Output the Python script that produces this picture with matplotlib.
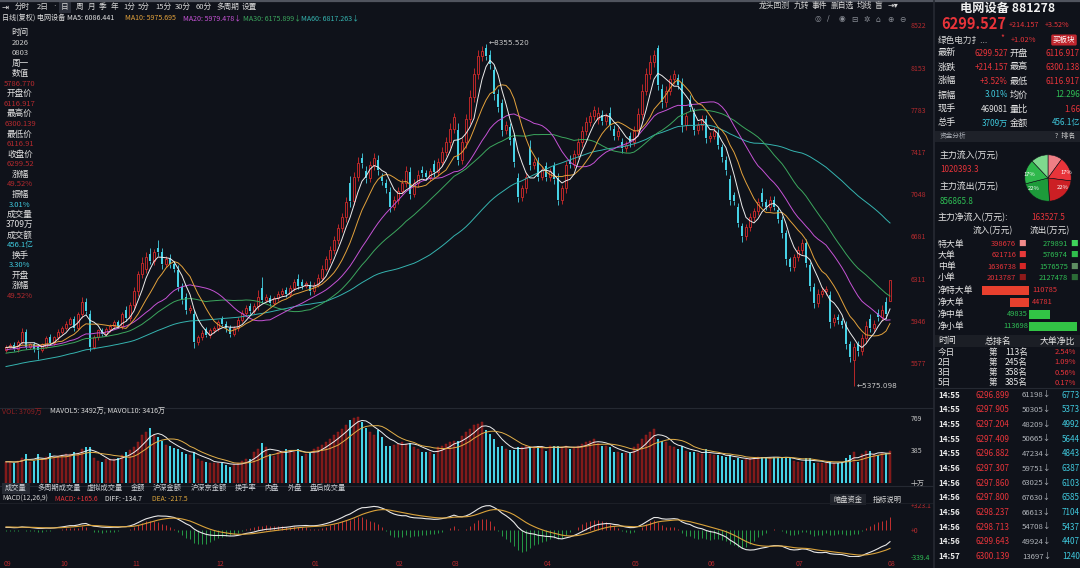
import matplotlib
matplotlib.use('Agg')
import matplotlib.pyplot as plt
from matplotlib.lines import Line2D
from matplotlib.patches import Rectangle
import numpy as np
import pandas as pd

plt.rcParams['font.family'] = ['Noto Sans CJK SC', 'DejaVu Sans']
plt.rcParams['axes.unicode_minus'] = False

# ---------------- data ----------------
# closes before the visible window, only used to warm up MA60 / MACD
prior_closes = [5290, 5310, 5280, 5330, 5350, 5320, 5360, 5400, 5380, 5350,
                5390, 5420, 5410, 5440, 5400, 5380, 5420, 5460, 5450, 5480,
                5500, 5470, 5440, 5480, 5510, 5530, 5500, 5490, 5520, 5560,
                5540, 5580, 5600, 5570, 5550, 5590, 5620, 5600, 5640, 5660,
                5630, 5610, 5650, 5680, 5660, 5690, 5700, 5670, 5650, 5690,
                5720, 5700, 5680, 5710, 5740, 5720, 5700, 5730, 5710, 5690]

opens = [5690, 5720, 5735, 5700, 5760, 5850, 5715, 5740, 5720, 5690,
         5720, 5800, 5750, 5800, 5850, 5880, 5920, 5960, 5880, 6000,
         6110, 6000, 5720, 5800, 5860, 5830, 5870, 5900, 5930, 5900,
         6040, 5970, 6080, 6200, 6350, 6400, 6530, 6470, 6580, 6540,
         6440, 6490, 6440, 6390, 6240, 6150, 6040, 6000, 5760, 5800,
         5870, 5820, 5860, 5880, 5960, 5920, 5880, 5830, 5880, 5950,
         6010, 6070, 6030, 6070, 6230, 6130, 6140, 6100, 6140, 6180,
         6210, 6180, 6230, 6310, 6280, 6250, 6260, 6200, 6260, 6320,
         6400, 6480, 6560, 6650, 6750, 6850, 7150, 6990, 7200, 7360,
         7250, 7190, 7300, 7350, 7200, 7150, 7070, 6940, 7000, 7080,
         7150, 7240, 7050, 7150, 7260, 7230, 7200, 7310, 7240, 7330,
         7420, 7500, 7620, 7610, 7350, 7500, 7700, 7900, 8100, 8250,
         8320, 8260, 8130, 7920, 7840, 7610, 7630, 7540, 7190, 7020,
         7100, 7460, 7300, 7330, 7200, 7290, 7200, 7290, 7190, 7000,
         7100, 7350, 7310, 7400, 7500, 7600, 7680, 7730, 7700, 7740,
         7690, 7760, 7620, 7560, 7500, 7450, 7560, 7500, 7600, 7750,
         7950, 8100, 8200, 8320, 7970, 7850, 7950, 8050, 8060, 8020,
         7650, 7870, 7760, 7610, 7650, 7700, 7540, 7560, 7580, 7460,
         7350, 7180, 7040, 6940, 6770, 6680, 6760, 6850, 6900, 7060,
         6980, 6940, 7000, 6910, 6820, 6710, 6480, 6410, 6500, 6560,
         6620, 6430, 6240, 6100, 6180, 6200, 6170, 5930, 5980, 5940,
         5910, 5740, 5600, 5740, 5680, 5790, 5960, 5880, 6010, 5980,
         6110, 6116.917]

closes = [5720, 5735, 5700, 5760, 5850, 5715, 5740, 5700, 5690, 5740,
          5790, 5750, 5800, 5850, 5880, 5920, 5960, 5880, 6000, 6110,
          6030, 5720, 5800, 5860, 5830, 5870, 5900, 5930, 5900, 6000,
          5970, 6080, 6200, 6350, 6450, 6500, 6470, 6540, 6540, 6440,
          6480, 6440, 6400, 6240, 6130, 6040, 6060, 5760, 5800, 5840,
          5820, 5860, 5880, 5930, 5920, 5880, 5830, 5880, 5950, 6010,
          6060, 6030, 6070, 6150, 6130, 6150, 6100, 6140, 6180, 6200,
          6180, 6230, 6280, 6250, 6250, 6270, 6200, 6260, 6320, 6400,
          6480, 6560, 6650, 6750, 6850, 6980, 6990, 7200, 7320, 7320,
          7190, 7300, 7360, 7260, 7160, 7100, 6940, 7000, 7080, 7150,
          7250, 7050, 7150, 7220, 7230, 7200, 7250, 7240, 7330, 7420,
          7500, 7620, 7720, 7350, 7500, 7700, 7900, 8100, 8250, 8300,
          8250, 8180, 7920, 7810, 7610, 7650, 7520, 7330, 7020, 7100,
          7200, 7300, 7330, 7200, 7260, 7200, 7250, 7180, 7000, 7100,
          7300, 7310, 7400, 7500, 7600, 7680, 7730, 7780, 7760, 7690,
          7730, 7650, 7560, 7600, 7450, 7480, 7500, 7600, 7750, 7950,
          8100, 8200, 8260, 8000, 7850, 7950, 8050, 8100, 8000, 7650,
          7730, 7810, 7610, 7650, 7700, 7540, 7560, 7600, 7480, 7370,
          7260, 7000, 6990, 6800, 6680, 6760, 6850, 6900, 6980, 6980,
          6940, 7000, 6940, 6830, 6710, 6480, 6410, 6500, 6560, 6620,
          6450, 6250, 6100, 6180, 6200, 6220, 5930, 5970, 5950, 5910,
          5740, 5630, 5720, 5680, 5790, 5900, 5880, 5920, 5980, 6040,
          6000, 6299.527]

wick_up = [15, 20, 25, 15, 30, 20, 15, 20, 20, 15,
           20, 25, 15, 20, 15, 25, 20, 30, 20, 40,
           30, 40, 20, 15, 25, 20, 15, 20, 25, 20,
           30, 30, 40, 30, 50, 40, 45, 30, 70, 40,
           30, 35, 30, 40, 30, 35, 25, 40, 20, 25,
           20, 25, 20, 25, 30, 20, 25, 20, 25, 30,
           25, 30, 30, 60, 100, 30, 25, 20, 25, 30,
           30, 25, 30, 40, 30, 25, 30, 20, 30, 30,
           30, 35, 30, 40, 35, 40, 60, 40, 50, 50,
           40, 35, 45, 40, 35, 30, 40, 30, 35, 30,
           40, 45, 30, 35, 30, 25, 30, 40, 35, 40,
           45, 50, 40, 60, 40, 50, 55, 50, 60, 45,
           35.52, 50, 40, 45, 40, 40, 35, 45, 40, 30,
           40, 60, 35, 40, 30, 40, 30, 35, 40, 30,
           40, 40, 35, 40, 45, 40, 35, 40, 45, 40,
           30, 45, 35, 30, 40, 30, 35, 40, 50, 55,
           50, 60, 50, 30, 40, 45, 40, 35, 40, 45,
           35, 40, 40, 30, 35, 40, 30, 30, 35, 30,
           35, 40, 30, 35, 30, 30, 35, 30, 35, 40,
           30, 35, 30, 30, 35, 30, 25, 30, 35, 40,
           35, 30, 30, 40, 35, 30, 35, 30, 25, 30,
           30, 30, 35, 30, 40, 45, 40, 35, 40, 45,
           40, 0.611]

wick_dn = [20, 15, 20, 25, 15, 20, 20, 25, 80, 20,
           15, 20, 15, 20, 25, 20, 15, 25, 20, 30,
           30, 35, 20, 25, 20, 15, 20, 25, 20, 25,
           25, 30, 30, 40, 35, 40, 30, 35, 30, 40,
           30, 35, 30, 40, 35, 40, 30, 50, 25, 20,
           20, 25, 20, 25, 20, 30, 25, 20, 25, 20,
           25, 30, 25, 35, 30, 25, 30, 20, 25, 20,
           25, 30, 25, 30, 25, 20, 30, 25, 20, 25,
           25, 30, 30, 35, 30, 40, 50, 40, 35, 40,
           40, 35, 40, 40, 35, 40, 45, 30, 35, 30,
           35, 45, 30, 35, 30, 30, 35, 40, 30, 35,
           40, 45, 40, 50, 40, 45, 40, 50, 45, 40,
           35, 40, 50, 45, 50, 40, 40, 45, 40, 35,
           40, 45, 35, 40, 30, 40, 35, 40, 50, 35,
           40, 35, 35, 40, 40, 35, 40, 35, 40, 35,
           35, 45, 40, 35, 40, 35, 40, 35, 40, 45,
           40, 45, 40, 45, 50, 40, 35, 40, 35, 55,
           40, 35, 45, 35, 40, 45, 35, 30, 35, 40,
           40, 45, 35, 40, 45, 35, 30, 35, 30, 35,
           30, 35, 30, 35, 40, 45, 35, 30, 35, 30,
           40, 45, 40, 35, 30, 35, 45, 35, 30, 30,
           40, 45, 224.902, 40, 35, 40, 35, 30, 40, 35,
           40, 0]

# volume in units of 十万
volumes = [250, 250, 240, 260, 300, 336, 250, 260, 336, 280,
           310, 350, 310, 320, 330, 340, 340, 370, 350, 400,
           420, 420, 300, 260, 250, 280, 280, 280, 300, 330,
           360, 390, 420, 480, 560, 600, 650, 560, 540, 490,
           450, 430, 410, 400, 360, 340, 330, 370, 280, 260,
           250, 240, 240, 240, 240, 215, 190, 220, 240, 260,
           280, 280, 360, 400, 470, 420, 340, 320, 360, 380,
           400, 380, 370, 400, 320, 340, 360, 400, 420, 450,
           480, 520, 560, 600, 640, 680, 740, 760, 780, 720,
           650, 600, 560, 620, 540, 440, 430, 450, 460, 480,
           460, 470, 420, 400, 370, 360, 370, 340, 420, 440,
           460, 480, 500, 490, 550, 600, 640, 680, 700, 720,
           620, 580, 520, 420, 440, 400, 390, 390, 420, 420,
           440, 420, 420, 440, 420, 380, 430, 430, 430, 420,
           430, 400, 420, 440, 460, 480, 500, 520, 470, 440,
           430, 420, 370, 360, 350, 350, 350, 420, 460, 520,
           560, 600, 640, 520, 490, 480, 440, 420, 400, 430,
           380, 360, 360, 350, 340, 400, 340, 330, 330, 320,
           310, 330, 270, 300, 270, 280, 290, 300, 310, 310,
           290, 300, 310, 310, 290, 300, 290, 260, 250, 250,
           290, 290, 240, 230, 230, 230, 250, 230, 240, 250,
           300, 330, 360, 250, 340, 380, 380, 340, 330, 355,
           350, 371]

price_ticks = [8522, 8153, 7783, 7417, 7048, 6681, 6311, 5946, 5577]
month_labels = ['09', '10', '11', '12', '01', '02', '03', '04', '05', '06', '07', '08']
month_starts = [0, 14, 32, 53, 77, 98, 112, 135, 157, 176, 198, 221]

ma_periods = [5, 10, 20, 30, 60]
ma_colors = ['#ececec', '#e3a23c', '#c653d6', '#3ca75e', '#35b4b0']
ma_legend = ['MA5: 6086.441', 'MA10: 5975.695', 'MA20: 5979.478\u2193',
             'MA30: 6175.899\u2193', 'MA60: 6817.263\u2193']

quote_rows = [('最新', '6299.527', '开盘', '6116.917'),
              ('涨跌', '+214.157', '最高', '6300.138'),
              ('涨幅', '+3.52%', '最低', '6116.917'),
              ('振幅', '3.01%', '均价', '12.296'),
              ('现手', '469081', '量比', '1.66'),
              ('总手', '3709万', '金额', '456.1亿')]

pie_shares = [10, 17, 22, 22, 17, 12]
pie_labels = ['', '17%', '22%', '22%', '17%', '']

flow_names = ['特大单', '大单', '中单', '小单']
flow_in = [398676, 621716, 1636738, 2013787]
flow_out = [279891, 576974, 1576575, 2127478]
net_names = ['净特大单', '净大单', '净中单', '净小单']
net_flow = [110785, 44781, -49835, -113698]

rank_days = ['今日', '2日', '3日', '5日']
rank_pos = [113, 245, 358, 385]
rank_ratio = ['2.54%', '1.09%', '0.56%', '0.17%']

tick_times = ['14:55'] * 5 + ['14:56'] * 6 + ['14:57']
tick_prices = ['6296.899', '6297.905', '6297.204', '6297.409', '6296.882', '6297.307',
               '6297.860', '6297.800', '6298.237', '6298.713', '6299.643', '6300.139']
tick_vols = [61198, 50305, 48209, 50665, 47234, 59751, 63025, 67630, 66613, 54708, 49924, 13697]
tick_amts = [6773, 5373, 4992, 5644, 4843, 6387, 6103, 6585, 7104, 5437, 4407, 1240]

left_info = [('时间', 'w'), ('2026', 'g'), ('0803', 'g'), ('周一', 'w'), ('数值', 'w'),
             ('5786.770', 'r'), ('开盘价', 'w'), ('6116.917', 'r'), ('最高价', 'w'),
             ('6300.139', 'r'), ('最低价', 'w'), ('6116.91', 'r'), ('收盘价', 'w'),
             ('6299.52', 'r'), ('涨幅', 'w'), ('49.52%', 'r'), ('振幅', 'w'),
             ('3.01%', 'c'), ('成交量', 'w'), ('3709万', 'w'), ('成交额', 'w'),
             ('456.1亿', 'c'), ('换手', 'w'), ('3.30%', 'c'), ('开盘', 'w'),
             ('涨幅', 'w'), ('49.52%', 'r')]

# ---------------- style ----------------
W, H = 1080, 568
BG = '#0f121a'
RED = '#e8343a'
DRED = '#b42a2e'
GREEN = '#2fbf55'
CYAN = '#3fc9dd'
WHITE = '#e2e2e2'
UPC = '#d42b2b'
DNC = '#46d2e6'
info_col = {'w': WHITE, 'g': '#c8c8c8', 'r': DRED, 'c': CYAN}

fig = plt.figure(figsize=(W / 100, H / 100), dpi=100, facecolor=BG)


def add_ax(x0, y0, x1, y1):
    a = fig.add_axes([x0 / W, 1 - y1 / H, (x1 - x0) / W, (y1 - y0) / H])
    a.set_facecolor(BG)
    for sp in a.spines.values():
        sp.set_visible(False)
    return a


def T(x, y, s, c=WHITE, size=6.2, ha='left', **kw):
    fig.text(x / W, 1 - y / H, s, color=c, fontsize=size, ha=ha, va='center', **kw)


def hline(y, x0=0, x1=W, c='#252932', lw=0.8):
    fig.add_artist(Line2D([x0 / W, x1 / W], [1 - y / H, 1 - y / H], color=c, lw=lw))


def box(x0, y0, x1, y1, fc):
    fig.add_artist(Rectangle((x0 / W, 1 - y1 / H), (x1 - x0) / W, (y1 - y0) / H,
                             transform=fig.transFigure, fc=fc, ec='none', zorder=0))


# ---------------- derived series ----------------
n = len(closes)
idx = np.arange(n)
o = np.array(opens, dtype=float)
c = np.array(closes, dtype=float)
top = np.maximum(o, c)
bot = np.minimum(o, c)
highs = top + np.array(wick_up)
lows = bot - np.array(wick_dn)
up = c >= o
vol = np.array(volumes, dtype=float)

s_all = pd.Series(list(prior_closes) + list(closes), dtype=float)
np0 = len(prior_closes)
mas = [s_all.rolling(p).mean().values[np0:] for p in ma_periods]
ema12 = s_all.ewm(span=12, adjust=False).mean()
ema26 = s_all.ewm(span=26, adjust=False).mean()
diff = ema12 - ema26
dea = diff.ewm(span=9, adjust=False).mean()
macd = (2 * (diff - dea)).values[np0:]
diff = diff.values[np0:]
dea = dea.values[np0:]
vs = pd.Series(vol)
mavol5 = vs.rolling(5, min_periods=1).mean().values
mavol10 = vs.rolling(10, min_periods=1).mean().values

XL = (-1.5, 224.75)

# ---------------- main candle panel ----------------
ax = add_ax(0, 22, 905, 405)
ax.set_xlim(*XL)
ax.set_ylim(5210, 8550)
col = np.where(up, UPC, DNC)
ax.vlines(idx, top, highs, colors=col, lw=0.6, zorder=2)
ax.vlines(idx, lows, bot, colors=col, lw=0.6, zorder=2)
ax.bar(idx[up], (c - o)[up], bottom=o[up], width=0.72, facecolor=BG,
       edgecolor=UPC, lw=0.6, zorder=2)
ax.bar(idx[~up], (o - c)[~up], bottom=c[~up], width=0.72, color=DNC, lw=0, zorder=2)
for m, colr in list(zip(mas, ma_colors))[::-1]:
    ax.plot(idx, m, color=colr, lw=0.7, zorder=3)
ax.set_xticks([])
ax.yaxis.tick_right()
ax.set_yticks(price_ticks)
ax.set_yticklabels([str(v) for v in price_ticks])
ax.tick_params(axis='y', length=0, pad=4, labelsize=5, labelcolor=DRED)
hi = int(np.argmax(highs))
lo = int(np.argmin(lows))
ax.text(hi + 0.6, highs[hi] + 15, '\u2190%.3f' % highs[hi], color='#c8c8c8',
        fontsize=5.2, ha='left', va='center', family='DejaVu Sans')
ax.text(lo + 0.6, lows[lo], '\u2190%.3f' % lows[lo], color='#c8c8c8',
        fontsize=5.2, ha='left', va='center', family='DejaVu Sans')

# ---------------- volume panel ----------------
axv = add_ax(0, 415, 905, 483)
axv.set_xlim(*XL)
axv.set_ylim(0, 800)
axv.bar(idx[up], vol[up], width=0.72, color='#7a1818', edgecolor='#a82222', lw=0.3)
axv.bar(idx[~up], vol[~up], width=0.72, color=DNC, lw=0)
axv.plot(idx, mavol5, color='#eeeeee', lw=0.7)
axv.plot(idx, mavol10, color='#e3b04a', lw=0.7)
axv.set_xticks([])
axv.yaxis.tick_right()
axv.set_yticks([0, 385, 769])
axv.set_yticklabels(['十万', '385', '769'])
axv.tick_params(axis='y', length=0, pad=4, labelsize=5, labelcolor='#c4c4c4')

# ---------------- MACD panel ----------------
axm = add_ax(0, 505, 905, 557)
axm.set_xlim(*XL)
axm.set_ylim(-339.4, 323.1)
axm.vlines(idx, 0, macd, colors=np.where(macd >= 0, '#c43030', '#259a46'), lw=0.7)
axm.plot(idx, diff, color='#e8e8e8', lw=0.8)
axm.plot(idx, dea, color='#d9a23a', lw=0.8)
axm.yaxis.tick_right()
axm.set_yticks([-339.4, 0, 323.1])
axm.set_yticklabels(['-339.4', '+0', '+323.1'])
axm.tick_params(axis='y', length=0, pad=4, labelsize=5)
for lbl, colr in zip(axm.get_yticklabels(), [GREEN, DRED, DRED]):
    lbl.set_color(colr)
axm.set_xticks([m - 0.5 for m in month_starts])
axm.set_xticklabels(month_labels)
axm.tick_params(axis='x', length=0, pad=2, labelsize=5, labelcolor=DRED)
for lbl in axm.get_xticklabels():
    lbl.set_ha('left')

# ---------------- chart chrome ----------------
hline(1, 0, W, c='#50545e', lw=1.6)
hline(408, 0, 933)
hline(486, 0, 933)
hline(503, 0, 933, c='#1c1f27')
fig.add_artist(Line2D([934 / W, 934 / W], [0, 1], color='#262a33', lw=1.2))

# toolbar
box(59, 1, 71, 13, '#2b2f3a')
T(2, 7, '\u21e5', c=WHITE, size=6, family='DejaVu Sans')
T(53, 7, '\u00b7', c='#d8d8d8', size=5.5, family='DejaVu Sans')
for x, s in [(15, '分时'), (37, '2日'), (61, '日'), (76, '周'), (88, '月'),
             (99, '季'), (111, '年'), (123, '1分'), (138, '5分'), (155, '15分'),
             (175, '30分'), (196, '60分'), (216, '多周期'), (242, '设置')]:
    T(x, 7, s, c='#d8d8d8', size=5.5)
for x, s in [(759, '龙头回测'), (794, '九转'), (812, '事件'), (831, '删自选'),
             (857, '均线'), (875, '盲')]:
    T(x, 6, s, c='#d8d8d8', size=5.6)
T(888, 6, '\u21e5\u25be', c='#d8d8d8', size=5.8, family='DejaVu Sans')
for k, s in enumerate(['\u25ce', '\u2215', '\u25c9', '\u229f', '\u2732', '\u2302', '\u2295', '\u2296']):
    T(815 + k * 12, 19, s, c='#8a8e96', size=5.5, family='DejaVu Sans')

# legend row
T(2, 18, '日线(复权) 电网设备 MA5: 6086.441', c=WHITE, size=5.1)
for x, s, colr in zip([125, 183, 243, 301], ma_legend[1:], ma_colors[1:]):
    T(x, 18, s, c=colr, size=5.1)

# left info column
for k, (s, kind) in enumerate(left_info):
    T(20, 33 + 10.1 * k, s, c=info_col[kind], size=6.2 if kind == 'w' else 5.5, ha='center')

# volume legend
T(2, 412, 'VOL: 3709万', c='#8e1f22', size=5.1)
T(50, 412, 'MAVOL5: 3492万, MAVOL10: 3416万', c='#d8d8d8', size=5.1)

# indicator tabs
box(2, 483, 30, 494, '#262a33')
for x, s in [(5, '成交量'), (37, '多周期成交量'), (87, '虚拟成交量'), (131, '金额'),
             (153, '沪深金额'), (191, '沪深京金额'), (235, '换手率'), (264, '内盘'),
             (288, '外盘'), (310, '盘后成交量')]:
    T(x, 488, s, c='#cfd2d8', size=5.2)

# MACD legend
T(2, 499, 'MACD(12,26,9)', c='#d8d8d8', size=4.9)
T(55, 499, 'MACD: +165.6', c=RED, size=4.9)
T(105, 499, 'DIFF: -134.7', c='#e8e8e8', size=4.9)
T(152, 499, 'DEA: -217.5', c='#e0a83c', size=4.9)
box(830, 494, 866, 505, '#20232b')
T(833, 500, '暗盘资金', c='#d8d8d8', size=5.2)
T(873, 500, '指标说明', c='#d8d8d8', size=5.2)

# ---------------- right quote panel ----------------
T(1008, 8, '电网设备 881278', c='#f0f0f0', size=8.8, ha='center', weight='bold')
T(941, 24, '6299.527', c=RED, size=10.5, weight='bold')
T(1009, 25, '+214.157', c=RED, size=5.2)
T(1045, 25, '+3.52%', c=RED, size=5.2)
T(938, 40, '绿色电力扌...', c='#d8d8d8', size=6.2)
T(1000, 38, '*', c=RED, size=6)
T(1011, 40, '+1.02%', c=RED, size=5.4)
T(1064, 40, '买板块', c='white', size=5.4, ha='center',
  bbox=dict(boxstyle='round,pad=0.2', fc='#c0262e', ec='none'))

value_cols = [[RED, RED], [RED, RED], [RED, RED], [CYAN, GREEN], [WHITE, RED], [CYAN, CYAN]]
for k, (l1, v1, l2, v2) in enumerate(quote_rows):
    y = 53 + 14 * k
    T(938, y, l1, c='#e6e6e6', size=6.6)
    T(1008, y, v1, c=value_cols[k][0], size=5.8, ha='right')
    T(1010, y, l2, c='#e6e6e6', size=6.6)
    T(1080, y, v2, c=value_cols[k][1], size=5.8, ha='right')

box(935, 131, W, 142, '#1e2129')
T(940, 136, '资金分析', c='#a8acb4', size=4.8)
T(1055, 136, '?  排名', c='#c8c8c8', size=5)

T(940, 155, '主力流入(万元)', c='#e6e6e6', size=6.4)
T(940, 170, '1020393.3', c=RED, size=5.8)
T(940, 186, '主力流出(万元)', c='#e6e6e6', size=6.4)
T(940, 201, '856865.8', c=GREEN, size=5.8)
T(938, 217, '主力净流入(万元):', c='#e6e6e6', size=6.4)
T(1031, 217, '163527.5', c=RED, size=5.8)

axp = add_ax(1019, 149, 1077, 207)
axp.pie(pie_shares, labels=pie_labels, startangle=90, counterclock=False,
        colors=['#ee7f86', '#e8343a', '#cc1f24', '#1d9a3a', '#2fb84c', '#7fd88e'],
        labeldistance=0.58, textprops=dict(color='white', fontsize=4.2),
        wedgeprops=dict(edgecolor='#0f121a', lw=0.4))
axp.set_aspect('equal')

T(973, 231, '流入(万元)', c='#e6e6e6', size=6.2)
T(1030, 231, '流出(万元)', c='#e6e6e6', size=6.2)
in_sq = ['#f08a8a', '#e83a3a', '#d62626', '#8e1a1a']
out_sq = ['#3fd45a', '#2fbf4c', '#5e8e62', '#2b6b36']
for k, name in enumerate(flow_names):
    y = 244 + 11.3 * k
    T(938, y, name, c='#e6e6e6', size=6.4)
    T(1016, y, str(flow_in[k]), c=RED, size=5.4, ha='right')
    T(1018, y, '\u25a0', c=in_sq[k], size=5.5)
    T(1068, y, str(flow_out[k]), c=GREEN, size=5.4, ha='right')
    T(1070, y, '\u25a0', c=out_sq[k], size=5.5)

net_y = [290, 302, 314, 326]
axn = add_ax(982, 284, 1078, 332)
axn.set_xlim(-111000, 116000)
axn.set_ylim(332, 284)
axn.barh(net_y, [-v for v in net_flow], height=9,
         color=['#e8402e' if v > 0 else '#32c445' for v in net_flow], lw=0)
axn.set_xticks([])
axn.set_yticks([])
axn.patch.set_alpha(0)
for k, name in enumerate(net_names):
    T(938, net_y[k], name, c='#e6e6e6', size=6.4)
    if net_flow[k] > 0:
        T(1032, net_y[k], str(net_flow[k]), c=RED, size=5.4)
    else:
        T(1028, net_y[k], str(-net_flow[k]), c=GREEN, size=5.4, ha='right')

box(935, 335, W, 347, '#1b1e25')
T(938, 341, '时间', c='#e6e6e6', size=6.4)
T(985, 341, '总排名', c='#e6e6e6', size=6.4)
T(1040, 341, '大单净比', c='#e6e6e6', size=6.4)
for k, d in enumerate(rank_days):
    y = 352 + 10.3 * k
    T(938, y, d, c='#e6e6e6', size=6.2)
    T(989, y, '第', c='#e6e6e6', size=6.2)
    T(1005, y, '%d名' % rank_pos[k], c='#e6e6e6', size=6.2)
    T(1076, y, rank_ratio[k], c=RED, size=5.4, ha='right')

hline(388, 935, W)
for k in range(len(tick_times)):
    y = 395 + 14.7 * k
    T(938, y, tick_times[k], c='#e8e8e8', size=5.8, weight='bold')
    T(975, y, tick_prices[k], c=RED, size=5.8)
    T(1022, y, '%d\u2193' % tick_vols[k], c='#b0b4ba', size=5.6)
    T(1062, y, str(tick_amts[k]), c=CYAN, size=5.8)

fig.savefig('out.png', dpi=100, facecolor=BG)
